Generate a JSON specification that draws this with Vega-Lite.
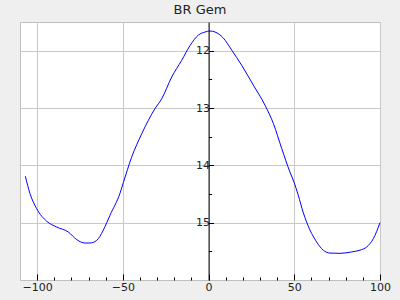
{
  "$schema": "https://vega.github.io/schema/vega-lite/v6.json",
  "width": 360,
  "height": 258,
  "autosize": {"type": "none"},
  "padding": {"left": 20, "top": 22, "right": 20, "bottom": 20},
  "background": "#efefef",
  "title": {"text": "BR Gem", "fontSize": 13, "font": "DejaVu Sans", "fontWeight": "normal", "color": "#222222", "offset": 5},
  "config": {"view": {"stroke": "#c0c0c0", "fill": "white", "strokeWidth": 1}},
  "data": {"values": [
    {"x": -106.9, "y": 14.19}, {"x": -104.2, "y": 14.49}, {"x": -100.3, "y": 14.755},
    {"x": -94.4, "y": 14.976}, {"x": -88.6, "y": 15.076}, {"x": -81.8, "y": 15.163},
    {"x": -76.9, "y": 15.296}, {"x": -72.1, "y": 15.355}, {"x": -69.2, "y": 15.355},
    {"x": -65.3, "y": 15.31}, {"x": -61.4, "y": 15.13}, {"x": -59.4, "y": 15.0},
    {"x": -57.5, "y": 14.87}, {"x": -51.7, "y": 14.49}, {"x": -49.7, "y": 14.3},
    {"x": -44.9, "y": 13.86}, {"x": -39.0, "y": 13.45}, {"x": -31.25, "y": 13.01},
    {"x": -27.35, "y": 12.84}, {"x": -21.5, "y": 12.46}, {"x": -15.7, "y": 12.17},
    {"x": -10.8, "y": 11.91}, {"x": -6.0, "y": 11.73}, {"x": -2.1, "y": 11.675},
    {"x": 0.8, "y": 11.657}, {"x": 3.75, "y": 11.674}, {"x": 8.6, "y": 11.78},
    {"x": 13.5, "y": 11.99}, {"x": 19.3, "y": 12.255}, {"x": 26.1, "y": 12.6},
    {"x": 32.9, "y": 12.95}, {"x": 37.8, "y": 13.27}, {"x": 42.7, "y": 13.71},
    {"x": 47.5, "y": 14.12}, {"x": 49.8, "y": 14.29}, {"x": 52.3, "y": 14.52},
    {"x": 55.3, "y": 14.83}, {"x": 57.2, "y": 14.99}, {"x": 63.1, "y": 15.34},
    {"x": 66.9, "y": 15.48}, {"x": 70.8, "y": 15.53}, {"x": 76.7, "y": 15.535},
    {"x": 83.5, "y": 15.51}, {"x": 88.3, "y": 15.48}, {"x": 92.2, "y": 15.425},
    {"x": 96.1, "y": 15.28}, {"x": 100, "y": 15.0}
  ]},
  "mark": {"type": "line", "color": "#0000ff", "strokeWidth": 1, "interpolate": "monotone"},
  "encoding": {
    "x": {
      "field": "x", "type": "quantitative",
      "scale": {"domain": [-110, 100], "nice": false, "zero": false},
      "axis": {
        "title": null,
        "values": [-100, -90, -80, -70, -60, -50, -40, -30, -20, -10, 0, 10, 20, 30, 40, 50, 60, 70, 80, 90, 100],
        "labelExpr": "datum.value % 50 === 0 ? format(datum.value, 'd') : ''",
        "labelFlush": false,
        "labelOverlap": false,
        "tickSize": {"condition": {"test": "datum.value % 50 === 0", "value": -6}, "value": -3},
        "tickColor": "black",
        "domain": false,
        "grid": true,
        "gridColor": "#c8c8c8",
        "gridOpacity": {"condition": {"test": "datum.value % 50 === 0", "value": 1}, "value": 0},
        "labelFont": "DejaVu Sans", "labelFontSize": 11, "labelColor": "#222222",
        "labelPadding": 7
      }
    },
    "y": {
      "field": "y", "type": "quantitative",
      "scale": {"domain": [11.5, 16], "reverse": true, "nice": false, "zero": false},
      "axis": {
        "title": null,
        "offset": -188.57,
        "values": [12, 12.5, 13, 13.5, 14, 14.5, 15, 15.5],
        "labelExpr": "datum.value % 1 === 0 ? format(datum.value, 'd') : ''",
        "labelOverlap": false,
        "tickSize": {"condition": {"test": "datum.value % 1 === 0", "value": -5}, "value": -3},
        "tickColor": "black",
        "domain": true, "domainColor": "black",
        "grid": true,
        "gridColor": "#c8c8c8",
        "gridOpacity": {"condition": {"test": "datum.value % 1 === 0", "value": 1}, "value": 0},
        "labelFont": "DejaVu Sans", "labelFontSize": 11, "labelColor": "#222222",
        "labelPadding": 4
      }
    }
  }
}
